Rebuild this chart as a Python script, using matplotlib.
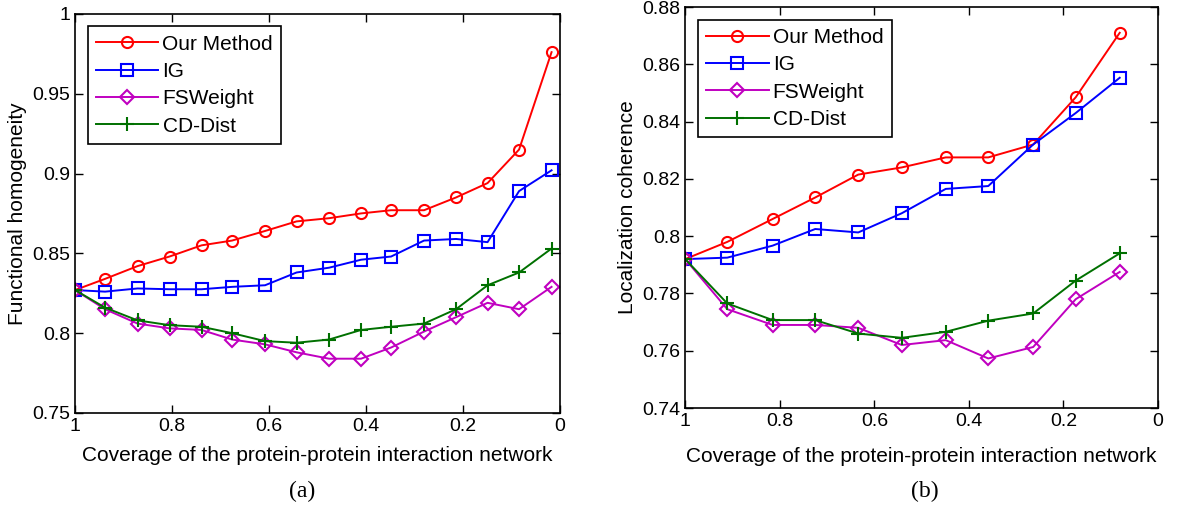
import numpy as np
import matplotlib
matplotlib.use("Agg")
import matplotlib.pyplot as plt

plt.rcParams["font.family"] = ["Liberation Sans Narrow", "Liberation Sans", "DejaVu Sans"]

# panel (a): functional homogeneity
x_a = [1.0, 0.938, 0.871, 0.805, 0.739, 0.676, 0.608, 0.543, 0.476, 0.410,
       0.348, 0.280, 0.214, 0.149, 0.084, 0.017]
ours_a = [0.827, 0.834, 0.842, 0.848, 0.855, 0.858, 0.864, 0.870, 0.872, 0.875,
          0.877, 0.877, 0.885, 0.894, 0.915, 0.976]
ig_a = [0.827, 0.826, 0.828, 0.8275, 0.8275, 0.829, 0.830, 0.838, 0.841, 0.846,
        0.848, 0.858, 0.859, 0.857, 0.889, 0.902]
fsw_a = [0.827, 0.815, 0.806, 0.803, 0.802, 0.796, 0.793, 0.788, 0.784, 0.784,
         0.791, 0.801, 0.810, 0.819, 0.815, 0.829]
cdd_a = [0.827, 0.816, 0.808, 0.805, 0.804, 0.800, 0.795, 0.794, 0.796, 0.802,
         0.804, 0.806, 0.815, 0.830, 0.838, 0.853]

# panel (b): localization coherence
x_b = [1.0, 0.911, 0.815, 0.725, 0.634, 0.542, 0.449, 0.359, 0.264, 0.174, 0.081]
ours_b = [0.792, 0.798, 0.806, 0.8135, 0.8215, 0.824, 0.8275, 0.8275, 0.832, 0.8485, 0.871]
ig_b = [0.792, 0.7925, 0.7967, 0.8025, 0.8013, 0.808, 0.8165, 0.8175, 0.832, 0.843, 0.8553]
fsw_b = [0.792, 0.7745, 0.769, 0.769, 0.768, 0.762, 0.7637, 0.7573, 0.7613, 0.778, 0.7875]
cdd_b = [0.792, 0.7765, 0.7707, 0.7707, 0.766, 0.7645, 0.7666, 0.7705, 0.773, 0.7845, 0.794]

labels = ["Our Method", "IG", "FSWeight", "CD-Dist"]
styles = [("red", "o"), ("blue", "s"), ("#c000c0", "D"), ("#007000", "+")]
msizes = [8, 9, 7, 10]

fig = plt.figure(figsize=(12, 5.17), dpi=100)
ax1 = fig.add_axes([0.0625, 0.2012, 0.404, 0.772])
ax2 = fig.add_axes([0.571, 0.2108, 0.394, 0.7756])


def draw(ax, x, series, ylim, yticks, ylabel, xpad):
    for y, lab, (c, m), ms in zip(series, labels, styles, msizes):
        ax.plot(x, y, color=c, marker=m, markersize=ms, markerfacecolor="none",
                markeredgewidth=1.5, linewidth=1.4, label=lab)
    ax.set_xlim(1, 0)
    ax.set_ylim(*ylim)
    ax.set_xticks([1, 0.8, 0.6, 0.4, 0.2, 0])
    ax.set_xticklabels(["1", "0.8", "0.6", "0.4", "0.2", "0"])
    ax.set_yticks(yticks)
    ax.set_yticklabels(["%g" % t for t in yticks])
    ax.tick_params(direction="in", top=True, right=True, length=6, labelsize=14, width=1)
    for s in ax.spines.values():
        s.set_linewidth(1.2)
    ax.set_xlabel("Coverage of the protein-protein interaction network", fontsize=15, labelpad=xpad)
    ax.set_ylabel(ylabel, fontsize=15, labelpad=4)
    ax.legend(loc="upper left", fontsize=15, handlelength=3, fancybox=False,
              edgecolor="black", framealpha=1, borderpad=0.4, labelspacing=0.4,
              handletextpad=0.2, borderaxespad=0.6).get_frame().set_linewidth(1.2)


draw(ax1, x_a, [ours_a, ig_a, fsw_a, cdd_a], (0.75, 1.0),
     [0.75, 0.8, 0.85, 0.9, 0.95, 1.0], "Functional homogeneity", 8)
draw(ax2, x_b, [ours_b, ig_b, fsw_b, cdd_b], (0.74, 0.88),
     [0.74, 0.76, 0.78, 0.8, 0.82, 0.84, 0.86, 0.88], "Localization coherence", 12)

fig.text(0.2517, 0.05, "(a)", ha="center", va="center", fontsize=17, family="Liberation Serif")
fig.text(0.771, 0.05, "(b)", ha="center", va="center", fontsize=17, family="Liberation Serif")

fig.savefig("out.png", dpi=100)
